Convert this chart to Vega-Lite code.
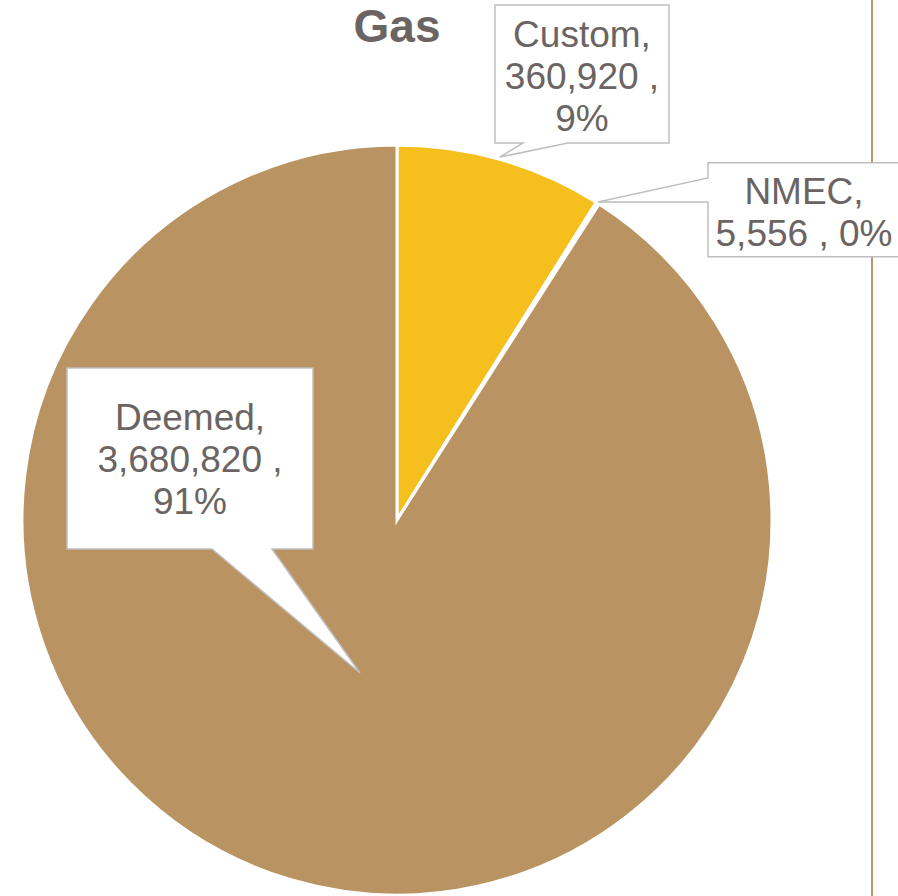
{
  "$schema": "https://vega.github.io/schema/vega-lite/v6.json",
  "width": 750,
  "height": 750,
  "autosize": {"type": "none"},
  "padding": {"left": 22, "top": 145, "right": 126, "bottom": 1},
  "background": "white",
  "config": {"view": {"stroke": null}},
  "data": {
    "values": [
      {"type": "Custom", "value": 360920},
      {"type": "NMEC", "value": 5556},
      {"type": "Deemed", "value": 3680820}
    ]
  },
  "transform": [
    {"joinaggregate": [{"op": "sum", "field": "value", "as": "total"}]},
    {"calculate": "datum.value / datum.total", "as": "pct"},
    {"window": [{"op": "row_number", "as": "idx"}]}
  ],
  "layer": [
    {
      "mark": {"type": "arc", "stroke": "white", "strokeWidth": 3},
      "encoding": {
        "theta": {"field": "value", "type": "quantitative", "stack": true},
        "color": {
          "field": "type",
          "type": "nominal",
          "scale": {"domain": ["Custom", "NMEC", "Deemed"], "range": ["#F5C01D", "#A5A5A5", "#B99462"]},
          "legend": null
        },
        "order": {"field": "idx", "type": "quantitative"}
      }
    },
    {
      "transform": [{"filter": "datum.idx == 1"}],
      "mark": {"type": "rule", "color": "#B49A6C", "strokeWidth": 2},
      "encoding": {
        "x": {"datum": 1.2667, "type": "quantitative", "scale": {"domain": [-1, 1], "nice": false, "zero": false}, "axis": null},
        "y": {"datum": 1.3867, "type": "quantitative", "scale": {"domain": [-1, 1], "nice": false, "zero": false}, "axis": null},
        "y2": {"datum": -1.0027}
      }
    },
    {
      "transform": [{"filter": "datum.type == 'Deemed'"}],
      "mark": {"type": "point", "filled": true, "opacity": 1, "size": 4, "fill": "white", "stroke": "#BFBFBF", "strokeWidth": 1.5,
        "shape": "M-123,-90.5L123,-90.5L123,90.5L82,90.5L170,214.5L22,90.5L-123,90.5Z"},
      "encoding": {
        "x": {"datum": -0.552, "type": "quantitative", "scale": {"domain": [-1, 1], "nice": false, "zero": false}, "axis": null},
        "y": {"datum": 0.164, "type": "quantitative", "scale": {"domain": [-1, 1], "nice": false, "zero": false}, "axis": null}
      }
    },
    {
      "transform": [{"filter": "datum.type == 'Custom'"}],
      "mark": {"type": "point", "filled": true, "opacity": 1, "size": 4, "fill": "white", "stroke": "#BFBFBF", "strokeWidth": 1.5,
        "shape": "M-87,-69L87,-69L87,69L-14,69L-82,83L-59,69L-87,69Z"},
      "encoding": {
        "x": {"datum": 0.4933, "type": "quantitative", "scale": {"domain": [-1, 1], "nice": false, "zero": false}, "axis": null},
        "y": {"datum": 1.1893, "type": "quantitative", "scale": {"domain": [-1, 1], "nice": false, "zero": false}, "axis": null}
      }
    },
    {
      "transform": [{"filter": "datum.type == 'NMEC'"}],
      "mark": {"type": "point", "filled": true, "opacity": 1, "size": 4, "fill": "white", "stroke": "#BFBFBF", "strokeWidth": 1.5,
        "shape": "M-96,-47L96,-47L96,47L-96,47L-96,-7.7L-206,-7.7L-96,-31.7Z"},
      "encoding": {
        "x": {"datum": 1.0853, "type": "quantitative", "scale": {"domain": [-1, 1], "nice": false, "zero": false}, "axis": null},
        "y": {"datum": 0.8275, "type": "quantitative", "scale": {"domain": [-1, 1], "nice": false, "zero": false}, "axis": null}
      }
    },
    {
      "transform": [
        {"filter": "datum.type == 'Deemed'"},
        {"calculate": "datum.type + ',\\n' + format(datum.value, ',') + ' ,\\n' + format(datum.pct, '.0%')", "as": "label"}
      ],
      "mark": {"type": "text", "font": "Liberation Sans", "fontSize": 37, "color": "#6A6462", "align": "center", "baseline": "alphabetic", "lineBreak": "\n", "lineHeight": 42, "dy": -28.5},
      "encoding": {
        "x": {"datum": -0.552, "type": "quantitative", "scale": {"domain": [-1, 1], "nice": false, "zero": false}, "axis": null},
        "y": {"datum": 0.164, "type": "quantitative", "scale": {"domain": [-1, 1], "nice": false, "zero": false}, "axis": null},
        "text": {"field": "label", "type": "nominal"}
      }
    },
    {
      "transform": [
        {"filter": "datum.type == 'Custom'"},
        {"calculate": "datum.type + ',\\n' + format(datum.value, ',') + ' ,\\n' + format(datum.pct, '.0%')", "as": "label"}
      ],
      "mark": {"type": "text", "font": "Liberation Sans", "fontSize": 37, "color": "#6A6462", "align": "center", "baseline": "alphabetic", "lineBreak": "\n", "lineHeight": 42, "dy": -27.3},
      "encoding": {
        "x": {"datum": 0.4933, "type": "quantitative", "scale": {"domain": [-1, 1], "nice": false, "zero": false}, "axis": null},
        "y": {"datum": 1.1893, "type": "quantitative", "scale": {"domain": [-1, 1], "nice": false, "zero": false}, "axis": null},
        "text": {"field": "label", "type": "nominal"}
      }
    },
    {
      "transform": [
        {"filter": "datum.type == 'NMEC'"},
        {"calculate": "datum.type + ',\\n' + format(datum.value, ',') + ' , ' + format(datum.pct, '.0%')", "as": "label"}
      ],
      "mark": {"type": "text", "font": "Liberation Sans", "fontSize": 37, "color": "#6A6462", "align": "center", "baseline": "alphabetic", "lineBreak": "\n", "lineHeight": 42, "dy": -5.4},
      "encoding": {
        "x": {"datum": 1.0853, "type": "quantitative", "scale": {"domain": [-1, 1], "nice": false, "zero": false}, "axis": null},
        "y": {"datum": 0.8275, "type": "quantitative", "scale": {"domain": [-1, 1], "nice": false, "zero": false}, "axis": null},
        "text": {"field": "label", "type": "nominal"}
      }
    },
    {
      "transform": [{"filter": "datum.idx == 1"}],
      "mark": {"type": "text", "text": "Gas", "font": "Liberation Sans", "fontSize": 46, "fontWeight": "bold", "color": "#6A6462", "align": "center", "baseline": "alphabetic"},
      "encoding": {
        "x": {"datum": 0, "type": "quantitative", "scale": {"domain": [-1, 1], "nice": false, "zero": false}, "axis": null},
        "y": {"datum": 1.2747, "type": "quantitative", "scale": {"domain": [-1, 1], "nice": false, "zero": false}, "axis": null}
      }
    }
  ]
}
